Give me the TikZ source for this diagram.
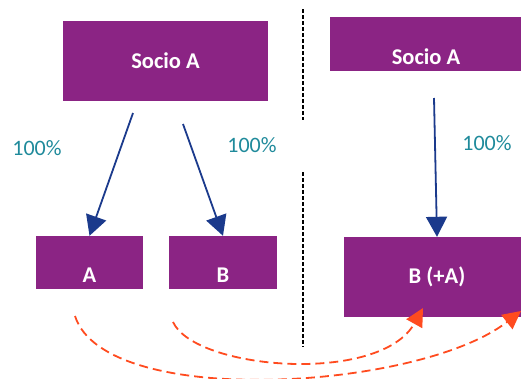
\documentclass[tikz,border=0pt]{standalone}
\usepackage{fontspec}
\setmainfont{Carlito}
\usetikzlibrary{arrows.meta}
\definecolor{boxpurple}{HTML}{8B2484}
\definecolor{pctteal}{HTML}{1F8A9B}
\definecolor{navyarrow}{HTML}{1B3A8C}
\definecolor{orangearrow}{HTML}{FF4B1F}
\tikzset{
  purplebox/.style={fill=boxpurple, draw=none, inner sep=0pt, text=white,
    font=\bfseries\fontsize{22.5}{26}\selectfont},
  lowtext/.style={text height=#1, text depth=0pt},
  pct/.style={text=pctteal, inner sep=0pt, font=\fontsize{22}{26}\selectfont},
  ownarrow/.style={draw=navyarrow, line width=1.8pt,
    -{Triangle[length=20pt,width=21pt]}},
  movearrow/.style={draw=orangearrow, line width=1.8pt, dash pattern=on 9pt off 5pt,
    -{Triangle[length=18pt,width=18pt]}},
  divider/.style={draw=black, line width=1.6pt, dash pattern=on 4pt off 2pt}
}
\begin{document}
\begin{tikzpicture}[x=1pt,y=-1pt]
\useasboundingbox (0,0) rectangle (521,378);
\clip (0,0) rectangle (521,378);
% boxes
\node[purplebox, minimum width=205pt, minimum height=80pt] (sa1) at (165.5,61) {Socio A};
\node[purplebox, lowtext=41pt, minimum width=192pt, minimum height=54pt] (sa2) at (426,44) {Socio A};
\node[purplebox, lowtext=39pt, minimum width=107pt, minimum height=53pt] (a) at (89.5,262.5) {A};
\node[purplebox, lowtext=39pt, minimum width=108pt, minimum height=53pt] (b) at (223,262.5) {B};
\node[purplebox, minimum width=186pt, minimum height=80pt] (ba) at (437,277) {B (+A)};
% percentages
\node[pct] (p1) at (37,148) {100\%};
\node[pct] (p2) at (252,145) {100\%};
\node[pct] (p3) at (487,143) {100\%};
% ownership arrows
\coordinate (s1) at (133,113);
\coordinate (s2) at (183,124);
\coordinate (s3) at (434,98);
\draw[ownarrow] (s1) -- (a.north);
\draw[ownarrow] (s2) -- (b.north);
\draw[ownarrow] (s3) -- (ba.north);
% divider
\coordinate (d1) at (303,9);
\coordinate (d2) at (303,120);
\coordinate (d3) at (303,172);
\coordinate (d4) at (303,347);
\draw[divider] (d1) -- (d2);
\draw[divider] (d3) -- (d4);
% moves
\coordinate (ma) at (75,316);
\coordinate (mae) at (521,311);
\coordinate (mb) at (173,322);
\coordinate (mbe) at (423,308);
\draw[movearrow] (ma) .. controls (105,410) and (420,390) .. (mae);
\draw[movearrow] (mb) .. controls (195,370) and (380,385) .. (mbe);
\end{tikzpicture}
\end{document}
